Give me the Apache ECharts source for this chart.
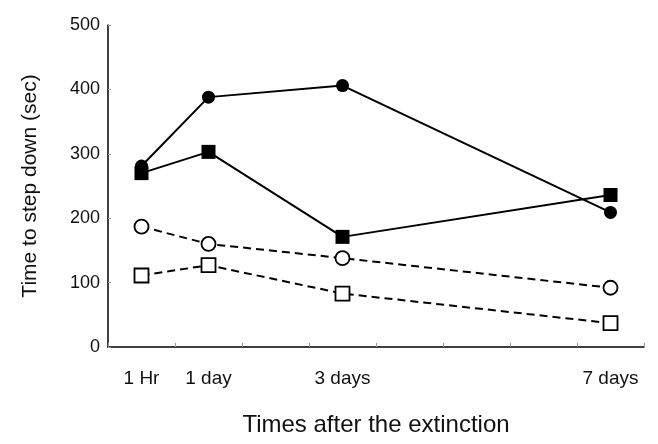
<!DOCTYPE html>
<html><head><meta charset="utf-8">
<script src="https://cdn.jsdelivr.net/npm/echarts@6/dist/echarts.min.js"></script>
<style>html,body{margin:0;padding:0;background:#fff}#c{width:658px;height:444px}</style>
</head><body><div id="c"></div>
<script>
var categories = ["1 Hr", "1 day", "", "3 days", "", "", "", "7 days"];
var filledCircle = [281, 388, null, 406, null, null, null, 209];
var filledSquare = [270, 303, null, 171, null, null, null, 236];
var openCircle = [187, 160, null, 138, null, null, null, 92];
var openSquare = [111, 127, null, 83, null, null, null, 37];
var yTicks = [0, 100, 200, 300, 400, 500];

var font = "Liberation Sans, Arial, sans-serif";
function mk(name, data, symbol, filled, dashed, size) {
  return {
    name: name, type: 'line', data: data, connectNulls: true,
    symbol: symbol, symbolSize: size, showSymbol: true,
    lineStyle: {color: '#000', width: 2, type: dashed ? [8, 5] : 'solid'},
    itemStyle: {color: filled ? '#000' : '#fff', borderColor: '#000', borderWidth: filled ? 0 : 1.8},
    animation: false, z: filled ? 3 : 2
  };
}
var chart = echarts.init(document.getElementById('c'));
chart.setOption({
  animation: false,
  grid: {left: 108, right: 14, top: 25, bottom: 97},
  xAxis: {
    type: 'category', data: categories, boundaryGap: true,
    name: 'Times after the extinction', nameLocation: 'middle', nameGap: 66,
    nameTextStyle: {fontFamily: font, fontSize: 24, color: '#111'},
    axisLine: {lineStyle: {color: '#000', width: 1.5}},
    axisTick: {show: true, inside: true, length: 4, lineStyle: {color: '#999'}},
    axisLabel: {fontFamily: font, fontSize: 19, color: '#111', margin: 22, interval: 0}
  },
  yAxis: {
    type: 'value', min: yTicks[0], max: yTicks[yTicks.length - 1], interval: 100,
    name: 'Time to step down (sec)', nameLocation: 'middle', nameGap: 67,
    nameTextStyle: {fontFamily: font, fontSize: 21, color: '#111'},
    axisLine: {show: true, lineStyle: {color: '#000', width: 1.5}},
    axisTick: {show: true, inside: true, length: 3, lineStyle: {color: '#999'}},
    splitLine: {show: false},
    axisLabel: {fontFamily: font, fontSize: 18, color: '#111', margin: 8}
  },
  series: [
    mk('open square', openSquare, 'rect', false, true, 14),
    mk('open circle', openCircle, 'circle', false, true, 14),
    mk('filled square', filledSquare, 'rect', true, false, 14),
    mk('filled circle', filledCircle, 'circle', true, false, 13)
  ]
});
</script></body></html>
